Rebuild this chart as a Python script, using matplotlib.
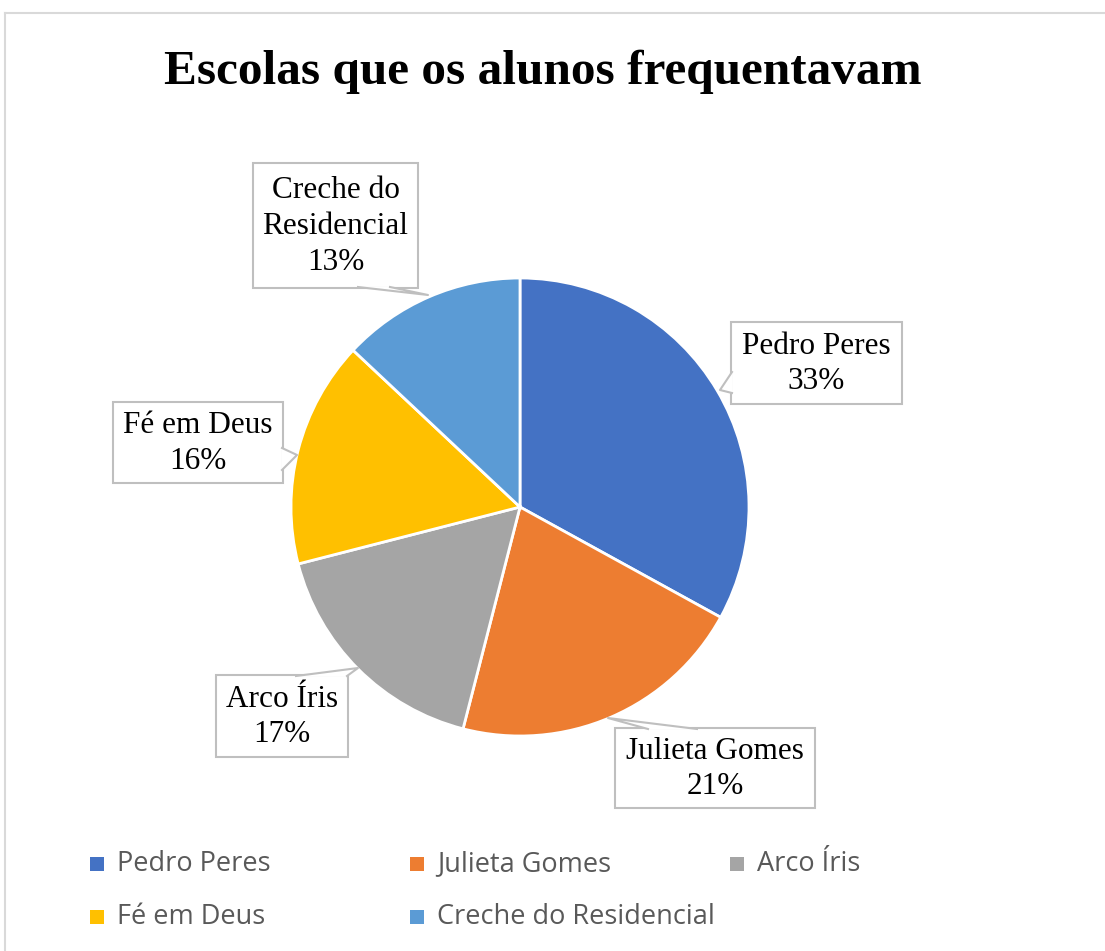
import matplotlib
matplotlib.use("Agg")
import matplotlib.pyplot as plt
from matplotlib.patches import Polygon, Rectangle

# data
escolas = ["Pedro Peres", "Julieta Gomes", "Arco Íris", "Fé em Deus", "Creche do Residencial"]
percentuais = [33, 21, 17, 16, 13]
cores = ["#4472C4", "#ED7D31", "#A5A5A5", "#FFC000", "#5B9BD5"]
rotulos = ["Pedro Peres", "Julieta Gomes", "Arco Íris", "Fé em Deus", "Creche do\nResidencial"]
titulo = "Escolas que os alunos frequentavam"

W, H = 1105, 951


def py(y):
    # pixel row (from top) -> data y
    return H - y


fig = plt.figure(figsize=(W / 100, H / 100), dpi=100)
ax = fig.add_axes([0, 0, 1, 1])
ax.set_xlim(0, W)
ax.set_ylim(0, H)
ax.set_aspect("equal")
ax.axis("off")

# chart frame
ax.plot([5, W], [py(13), py(13)], color="#D9D9D9", lw=1.5)
ax.plot([5, 5], [py(13), 0], color="#D9D9D9", lw=1.5)

ax.text(543, py(72), titulo, ha="center", va="center", fontsize=35.5,
        fontweight="bold", family="Liberation Serif", color="black")

wedges, _ = ax.pie(percentuais, colors=cores, startangle=90, counterclock=False,
                   center=(520, py(507)), radius=229,
                   wedgeprops=dict(edgecolor="white", linewidth=2))
ax.set_xlim(0, W)
ax.set_ylim(0, H)

# callout boxes: (x0, y0, x1, y1), pointer base 1, tip, pointer base 2 (pixels)
caixas = [
    ((731, 322, 902, 404), (732, 372), (720, 390), (732, 393)),
    ((615, 728, 815, 808), (648, 729), (608, 718), (697, 729)),
    ((216, 675, 348, 757), (296, 676), (358, 668), (347, 676)),
    ((113, 402, 283, 483), (282, 448), (297, 455), (282, 470)),
    ((253, 163, 418, 288), (358, 287), (428, 295), (390, 287)),
]
cinza = "#BFBFBF"
for i, (box, b1, tip, b2) in enumerate(caixas):
    x0, y0, x1, y1 = box
    ax.add_patch(Rectangle((x0, py(y1)), x1 - x0, y1 - y0, facecolor="white",
                           edgecolor=cinza, lw=1.5, zorder=5))
    ax.add_patch(Polygon([(b1[0], py(b1[1])), (tip[0], py(tip[1])), (b2[0], py(b2[1]))],
                         closed=True, facecolor="white", edgecolor="none", zorder=6))
    ax.plot([b1[0], tip[0], b2[0]], [py(b1[1]), py(tip[1]), py(b2[1])],
            color=cinza, lw=1.5, zorder=7)
    ax.text((x0 + x1) / 2, py((y0 + y1) / 2 + 1),
            "{}\n{}%".format(rotulos[i], percentuais[i]),
            ha="center", va="center", fontsize=22.5, family="Liberation Serif",
            linespacing=1.3, color="black", zorder=8)

# legend (Excel style, fixed column grid)
col_x = [97, 417, 737]
row_y = [864, 917]
for i, nome in enumerate(escolas):
    cx = col_x[i % 3]
    cy = row_y[i // 3]
    ax.add_patch(Rectangle((cx - 7, py(cy) - 7), 14, 14, facecolor=cores[i],
                           edgecolor="none"))
    ax.text(cx + 20, py(cy), nome, ha="left", va="center", fontsize=19.5,
            family="Open Sans", color="#595959")

fig.savefig("out.png", dpi=100, facecolor="white")
